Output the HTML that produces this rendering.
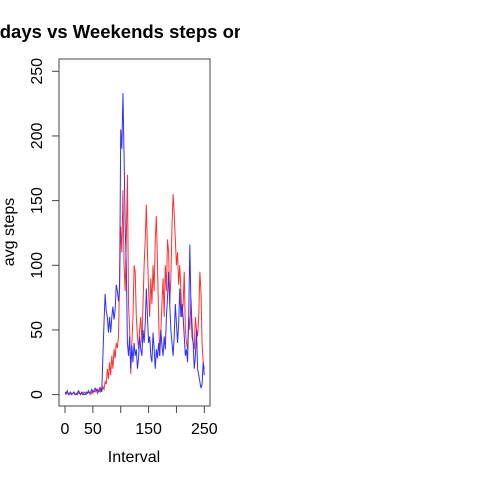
<!DOCTYPE html>
<html><head><meta charset="utf-8"><style>
body{margin:0;background:#fff;}
svg{display:block;font-family:"Liberation Sans",Arial,sans-serif;}
</style></head><body>
<svg id="chart" width="480" height="480" viewBox="0 0 480 480">
<defs><clipPath id="panel"><rect x="0" y="0" width="240" height="480"/></clipPath>
<clipPath id="plotclip"><rect x="59" y="59" width="151" height="347"/></clipPath></defs>
<g clip-path="url(#panel)">
<text x="136" y="38" text-anchor="middle" font-size="18.5" font-weight="bold">Weekdays vs Weekends steps on average</text>
</g>
<rect x="59" y="59" width="151" height="347" fill="none" stroke="#444" stroke-width="1"/>
<g id="axes"></g>
<g id="series" clip-path="url(#plotclip)"></g>
<text x="134" y="462" text-anchor="middle" font-size="16">Interval</text>
<text transform="translate(14,232) rotate(-90)" text-anchor="middle" font-size="16">avg steps</text>
</svg>
<script>
const xStep = 2;
const weekdaySteps = [2,1,3,0,1,2,0,1,2,0,0,1,3,1,0,2,1,0,0,2,1,3,1,2,4,2,3,5,3,4,2,3,5,
2,30,55,78,65,60,48,60,48,60,68,58,66,85,80,72,82,205,190,233,185,130,100,40,30,45,20,38,
25,40,30,35,20,28,45,35,30,50,40,55,82,60,40,45,30,25,48,35,20,35,28,40,30,50,38,30,45,35,60,75,95,70,50,40,30,45,70,55,40,55,82,60,70,60,45,30,35,25,60,116,70,45,40,20,30,50,20,15,10,5,8,25,15];
const weekendSteps = [1,0,2,1,0,1,0,1,2,0,1,0,1,2,0,1,0,2,1,0,1,2,1,0,2,1,3,2,4,1,3,5,2,
3,6,4,10,8,20,12,25,15,30,20,35,28,40,36,45,90,130,110,158,100,80,120,170,70,50,16,40,
60,100,95,60,45,35,50,60,40,70,100,120,147,110,80,60,90,70,100,80,120,138,100,60,30,50,70,90,60,100,80,120,110,70,90,130,155,140,120,100,110,85,100,80,60,70,95,50,40,35,60,50,75,55,40,35,60,50,45,60,95,80,40,25,20];
const xTicks = [0,50,100,150,200,250];
const xTickLabels = ["0","50","","150","","250"];
const yTicks = [0,50,100,150,200,250];

const NS = "http://www.w3.org/2000/svg";
const xScale = v => 65 + v * (204.3 - 65) / 250;
const yScale = v => 394.6 - v * (394.6 - 71.3) / 250;
const axes = document.getElementById('axes');
const series = document.getElementById('series');
function mk(tag, attrs, parent){const e=document.createElementNS(NS,tag);for(const k in attrs)e.setAttribute(k,attrs[k]);parent.appendChild(e);return e;}

xTicks.forEach((t,i)=>{
  const l = mk('line',{x1:xScale(t),x2:xScale(t),y1:406,y2:413,stroke:'#444'},axes);
  
  
  if(xTickLabels[i]){
    const tx = mk('text',{x:xScale(t),y:434,'text-anchor':'middle','font-size':16},axes);
    tx.textContent = xTickLabels[i];
    
    
  }
});
yTicks.forEach(t=>{
  const l = mk('line',{x1:52,x2:59,y1:yScale(t),y2:yScale(t),stroke:'#444'},axes);
  
  
  const tx = mk('text',{transform:`translate(42,${yScale(t)}) rotate(-90)`,'text-anchor':'middle','font-size':16},axes);
  tx.textContent = String(t);
  
  
});
function drawLine(data,color,name){
  const pts = data.map((v,i)=>xScale(i*xStep).toFixed(2)+','+yScale(v).toFixed(2)).join(' ');
  const p = mk('polyline',{points:pts,fill:'none',stroke:color,'stroke-width':1},series);
  
  
}
drawLine(weekendSteps,'#ff3030','weekend-line');
drawLine(weekdaySteps,'#3030ff','weekday-line');
</script>
</body></html>
